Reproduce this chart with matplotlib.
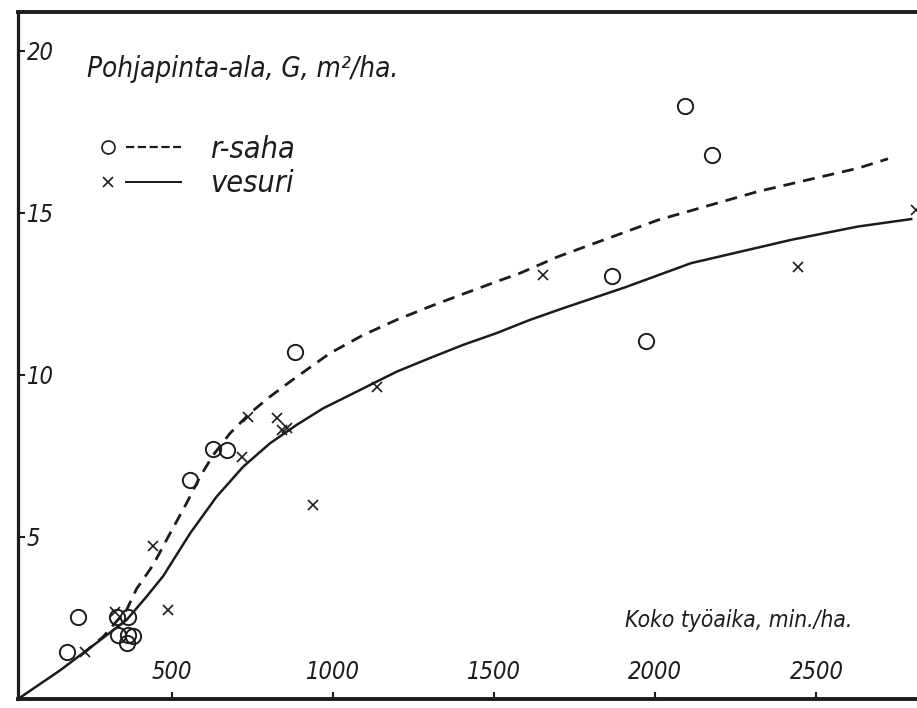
import matplotlib
matplotlib.use("Agg")
import matplotlib.pyplot as plt
from matplotlib.lines import Line2D
from matplotlib.legend_handler import HandlerBase

# ---------------- data ----------------
saha_x = [173, 207, 328, 362, 333, 359, 378, 364, 556, 628, 671, 881, 1865, 1972, 2091, 2177]
saha_y = [1.44, 2.54, 2.54, 2.52, 1.98, 1.72, 1.94, 1.96, 6.76, 7.72, 7.69, 10.70, 13.06, 11.06, 18.31, 16.79]

vesuri_x = [230, 323, 442, 488, 936, 737, 825, 840, 856, 716, 1135, 1651, 2443, 2809]
vesuri_y = [1.44, 2.69, 4.73, 2.75, 5.99, 8.71, 8.68, 8.30, 8.37, 7.46, 9.64, 13.09, 13.34, 15.09]

saha_curve_x = [224, 286, 359, 390, 441, 483, 545, 587, 628, 680, 742, 804, 866, 990, 1093, 1197,
                1300, 1404, 1507, 1580, 1698, 2008, 2318, 2629, 2722]
saha_curve_y = [1.40, 1.92, 2.75, 3.40, 4.13, 4.91, 6.04, 6.86, 7.53, 8.20, 8.82, 9.33, 9.79, 10.67,
                11.23, 11.70, 12.11, 12.50, 12.88, 13.14, 13.65, 14.78, 15.66, 16.38, 16.67]

vesuri_curve_x = [22, 152, 255, 359, 421, 473, 556, 638, 721, 804, 887, 969, 1052, 1197, 1300,
                  1404, 1507, 1611, 1714, 1905, 2111, 2422, 2629, 2794]
vesuri_curve_y = [0.0, 0.88, 1.65, 2.44, 3.16, 3.80, 5.11, 6.24, 7.17, 7.89, 8.46, 8.97, 9.38,
                  10.10, 10.52, 10.93, 11.29, 11.70, 12.06, 12.70, 13.45, 14.17, 14.58, 14.81]

x_ticks = [500, 1000, 1500, 2000, 2500]
y_ticks = [5, 10, 15, 20]

title_text = "Pohjapinta-ala, G, m²/ha."
xlabel_text = "Koko työaika, min./ha."
labels = ["r-saha", "vesuri"]

# ---------------- styling ----------------
INK = "#1c1c1c"
FONT = dict(family="DejaVu Sans", style="italic", stretch="condensed", color=INK)

W, H = 917, 708
fig = plt.figure(figsize=(W / 100, H / 100), dpi=100)
fig.patch.set_facecolor("white")

left_px, right_px, bottom_px, top_px = 18, 917, 699, 12
ax = fig.add_axes([left_px / W, 1 - bottom_px / H, (right_px - left_px) / W, (bottom_px - top_px) / H])
ax.set_facecolor("white")
ax.set_xlim(22, 2812)
ax.set_ylim(0, 21.2)

for s in ["left", "top", "bottom"]:
    ax.spines[s].set_color(INK)
ax.spines["left"].set_linewidth(2.3)
ax.spines["bottom"].set_linewidth(2.8)
ax.spines["top"].set_linewidth(2.8)
ax.spines["right"].set_visible(False)

# curves
(l_saha,) = ax.plot(saha_curve_x, saha_curve_y, color=INK, lw=2.0,
                    linestyle=(0, (4.3, 2.9)), solid_capstyle="butt")
(l_ves,) = ax.plot(vesuri_curve_x, vesuri_curve_y, color=INK, lw=1.8, linestyle="-")

# points
(m_saha,) = ax.plot(saha_x, saha_y, linestyle="none", marker="o", ms=11,
                    mfc="none", mec=INK, mew=1.4)
(m_ves,) = ax.plot(vesuri_x, vesuri_y, linestyle="none", marker="x", ms=7.5,
                   mec=INK, mew=1.2)

# ticks inside with labels inside
ax.set_xticks(x_ticks)
ax.set_xticklabels([str(v) for v in x_ticks])
ax.set_yticks(y_ticks)
ax.set_yticklabels([str(v) for v in y_ticks])
ax.tick_params(axis="x", direction="in", length=5, width=1.5, color=INK, pad=-10.5)
ax.tick_params(axis="y", direction="in", length=5, width=1.5, color=INK, pad=-6.5)
for t in ax.get_xticklabels():
    t.set_fontsize(17)
    t.set_fontfamily("DejaVu Sans")
    t.set_fontstyle("italic")
    t.set_fontstretch("condensed")
    t.set_color(INK)
    t.set_verticalalignment("bottom")
for t in ax.get_yticklabels():
    t.set_fontsize(17)
    t.set_fontfamily("DejaVu Sans")
    t.set_fontstyle("italic")
    t.set_fontstretch("condensed")
    t.set_color(INK)
    t.set_horizontalalignment("left")

# title & x label inside the frame
fig.text(87 / W, 1 - 77 / H, title_text, fontsize=20, va="baseline", ha="left", **FONT)
fig.text(625 / W, 1 - 627 / H, xlabel_text, fontsize=16.3, va="baseline", ha="left", **FONT)


# legend: marker, then line sample, then label
class MarkerThenLine(HandlerBase):
    def create_artists(self, legend, orig_handle, xdescent, ydescent, width, height, fontsize, trans):
        mk, ln = orig_handle
        y = height / 2 - ydescent
        x0 = -xdescent
        scale = 0.85 if mk.get_marker() == "o" else 1.05
        m = Line2D([x0 + 0.08 * width], [y], linestyle="none", marker=mk.get_marker(),
                   ms=mk.get_markersize() * scale, mfc="none", mec=INK, mew=1.2)
        l = Line2D([x0 + 0.3 * width, x0 + width], [y, y], color=INK,
                   lw=ln.get_linewidth() * 0.8, linestyle=ln.get_linestyle())
        m.set_transform(trans)
        l.set_transform(trans)
        return [m, l]


leg = ax.legend([(m_saha, l_saha), (m_ves, l_ves)], labels,
                handler_map={tuple: MarkerThenLine()},
                loc="upper left", bbox_to_anchor=(102 / W, 1 - 135 / H),
                bbox_transform=fig.transFigure, frameon=False,
                prop=dict(family="DejaVu Sans", style="italic", stretch="condensed", size=22),
                handlelength=2.6, handletextpad=0.95, labelspacing=0.18,
                borderpad=0, borderaxespad=0)
for t in leg.get_texts():
    t.set_color(INK)

fig.savefig("out.png", dpi=100, facecolor="white")
